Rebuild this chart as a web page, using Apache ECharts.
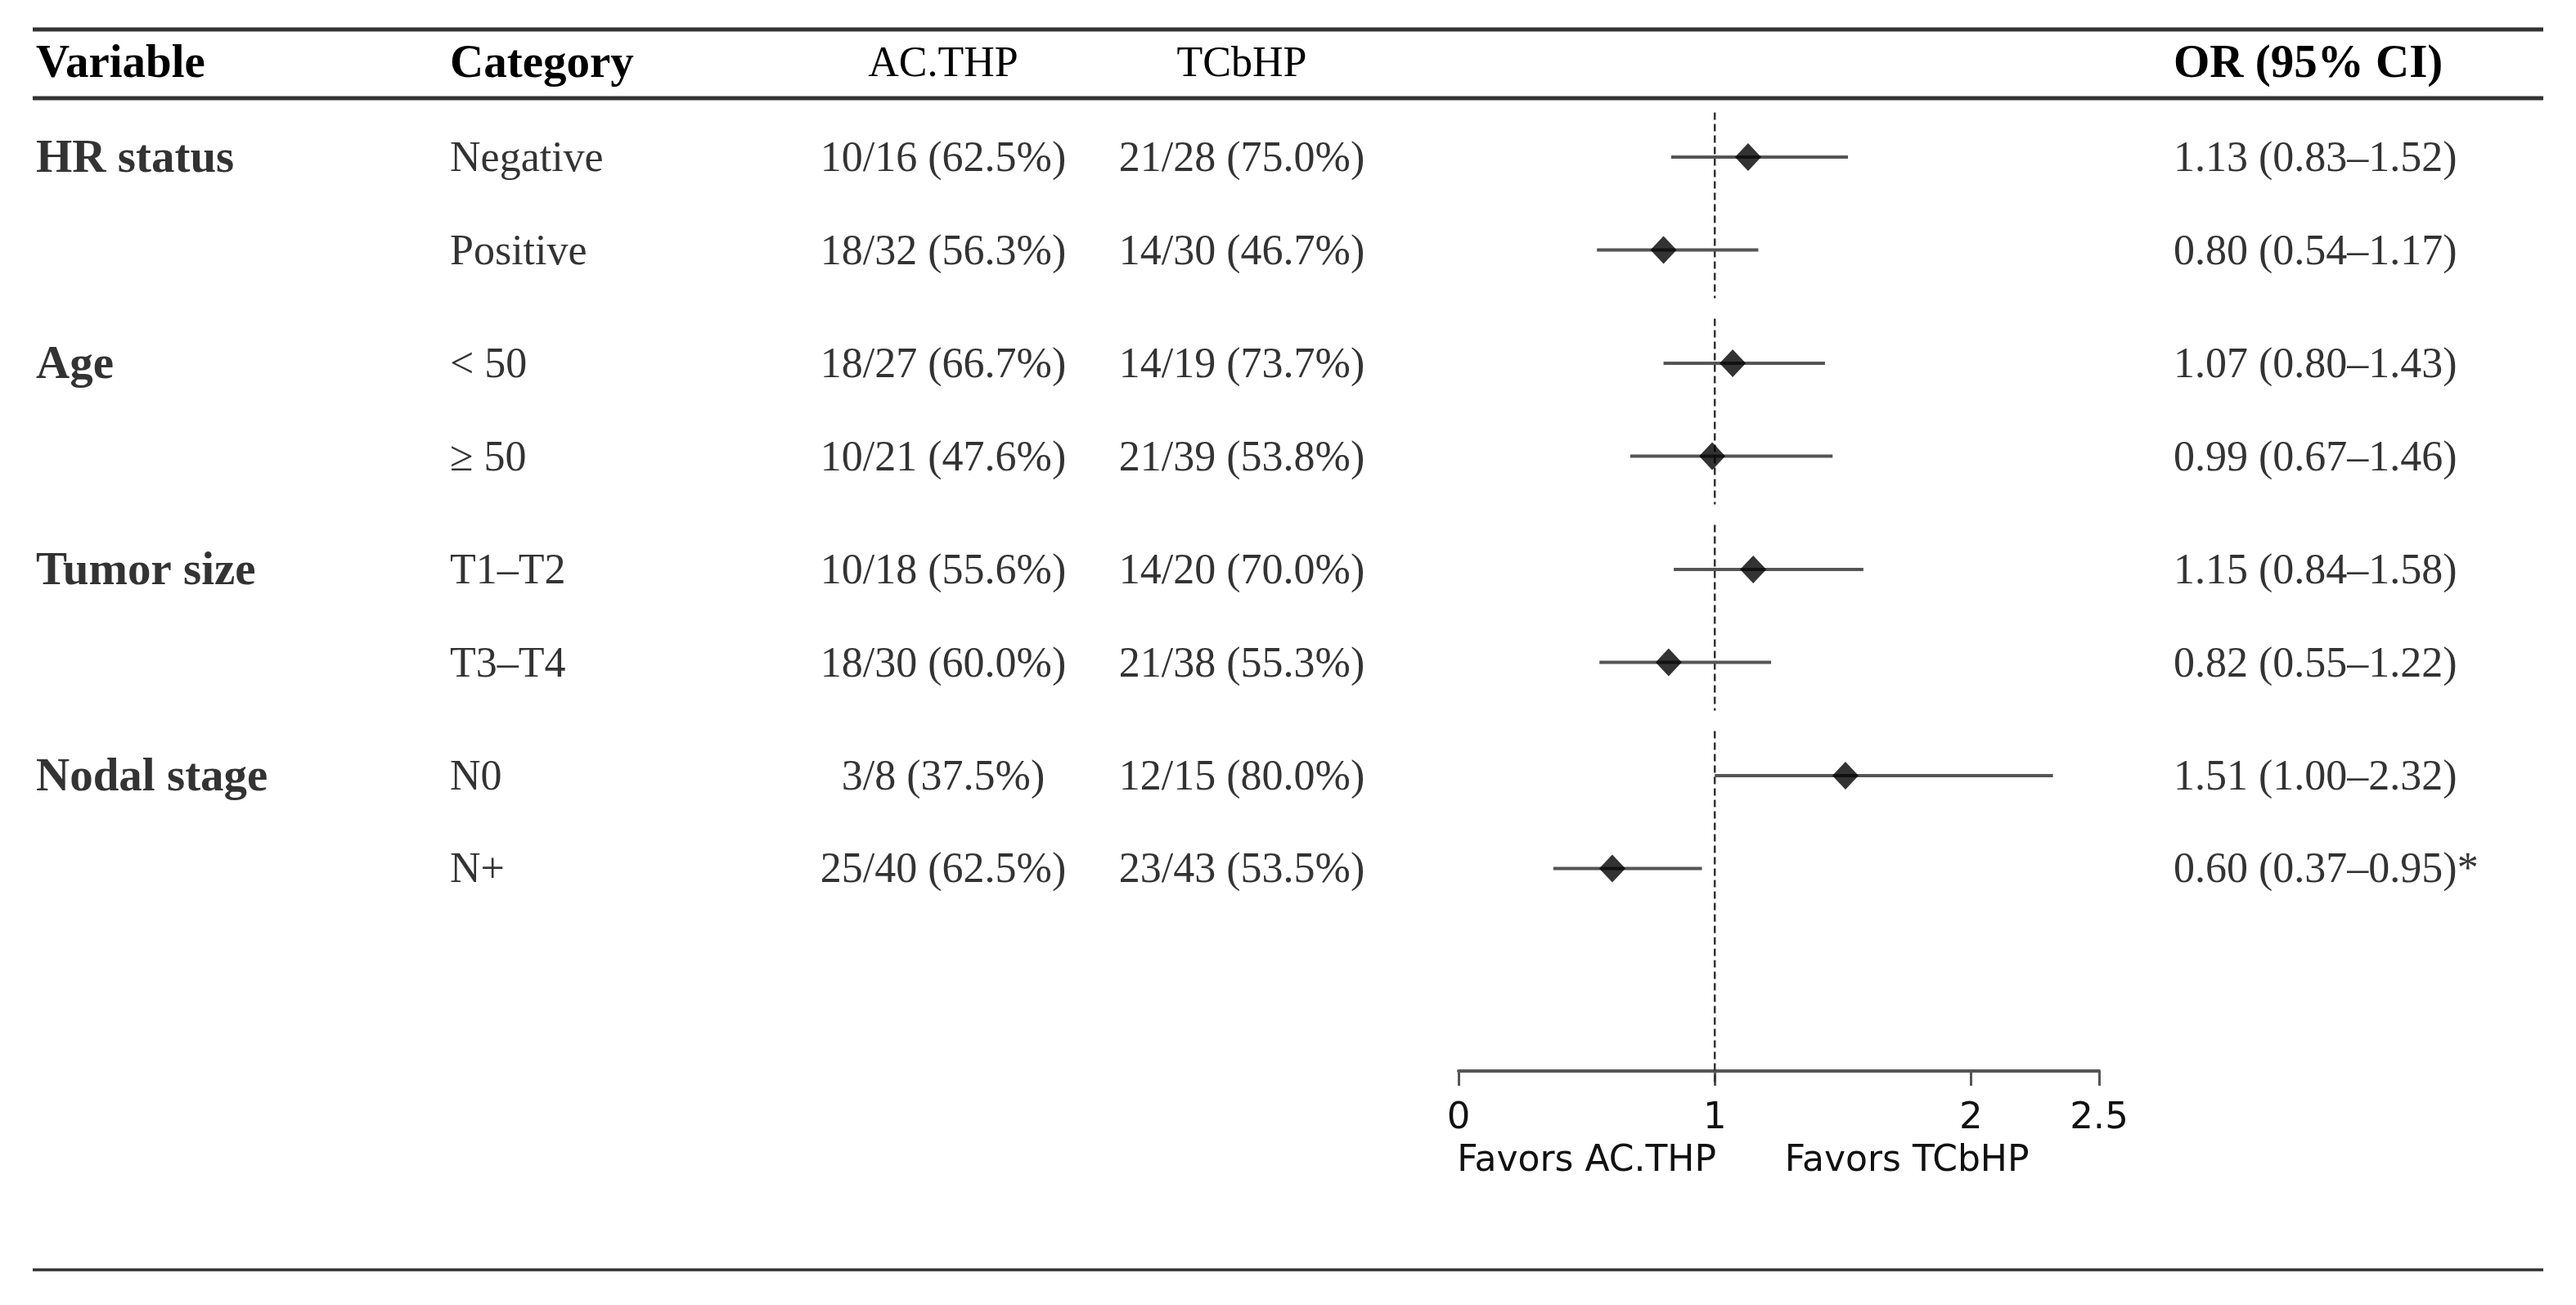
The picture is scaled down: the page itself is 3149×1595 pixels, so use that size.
<!DOCTYPE html>
<html>
<head>
<meta charset="utf-8">
<script src="https://cdn.jsdelivr.net/npm/echarts@6/dist/echarts.min.js"></script>
<style>
html,body{margin:0;padding:0;background:#fff;}
#c{width:3149px;height:1595px;}
</style>
</head>
<body>
<div id="c"></div>
<script>
// ---- data ----
const variables = ['HR status', 'Age', 'Tumor size', 'Nodal stage'];
const groupOf = [0, 0, 1, 1, 2, 2, 3, 3];
const categories = ['Negative', 'Positive', '< 50', '\u2265 50', 'T1\u2013T2', 'T3\u2013T4', 'N0', 'N+'];
const acthp = ['10/16 (62.5%)', '18/32 (56.3%)', '18/27 (66.7%)', '10/21 (47.6%)', '10/18 (55.6%)', '18/30 (60.0%)', '3/8 (37.5%)', '25/40 (62.5%)'];
const tcbhp = ['21/28 (75.0%)', '14/30 (46.7%)', '14/19 (73.7%)', '21/39 (53.8%)', '14/20 (70.0%)', '21/38 (55.3%)', '12/15 (80.0%)', '23/43 (53.5%)'];
const orVal = [1.13, 0.80, 1.07, 0.99, 1.15, 0.82, 1.51, 0.60];
const ciLow = [0.83, 0.54, 0.80, 0.67, 0.84, 0.55, 1.00, 0.37];
const ciHigh = [1.52, 1.17, 1.43, 1.46, 1.58, 1.22, 2.32, 0.95];
const sigMark = ['', '', '', '', '', '', '', '*'];
const xTicks = [0, 1, 2, 2.5];
const headers = ['Variable', 'Category', 'AC.THP', 'TCbHP', 'OR (95% CI)'];
const favorLabels = ['Favors AC.THP', 'Favors TCbHP'];
const favorAt = [0.5, 1.75];

// ---- layout ----
const W = 3149, H = 1595;
const rowStep = 113.5, firstRowPx = 192, axisPx = 1309, GAP = 0.22;
const yMin = -0.5;
const gridTop = firstRowPx + yMin * rowStep;
const gridH = axisPx - gridTop;
const yMax = yMin + gridH / rowStep;
const plotLeft = 1783, plotWidth = 783;
const colX = { variable: 44, category: 550, ac: 1153, tc: 1518, or: 2657 };
const serif = 'Liberation Serif';
const sans = 'DejaVu Sans';
const txt = '#000';
const textDy = 0.03;

const rowPos = categories.map((_, i) => i + groupOf[i] * GAP);

function textSeries(x, labels, align, bold) {
  return {
    type: 'scatter', xAxisIndex: 1, yAxisIndex: 1, symbolSize: 0, clip: false,
    silent: true,
    data: labels.map((t, i) => ({ value: [x, rowPos[i] + textDy], name: t })).filter(d => d.name !== ''),
    itemStyle: { color: 'rgba(0,0,0,0)' },
    label: {
      show: true, position: [0, 0], align: align, verticalAlign: 'middle',
      formatter: p => p.name, fontFamily: serif, fontSize: bold ? 57 : 52,
      fontWeight: bold ? 'bold' : 'normal', color: txt
    },
    z: 5
  };
}

const varLabels = categories.map((_, i) => (i === 0 || groupOf[i] !== groupOf[i - 1]) ? variables[groupOf[i]] : '');
const orLabels = orVal.map((v, i) => v.toFixed(2) + ' (' + ciLow[i].toFixed(2) + '\u2013' + ciHigh[i].toFixed(2) + ')' + sigMark[i]);

// dashed reference segments per group
const segs = variables.map((_, g) => {
  const idx = rowPos.map((p, i) => i).filter(i => groupOf[i] === g);
  const s = rowPos[idx[0]] - 0.48;
  const e = (g === variables.length - 1) ? yMax + 0.16 : rowPos[idx[idx.length - 1]] + 0.52;
  return [1, s, e];
});

const chart = echarts.init(document.getElementById('c'), null, { renderer: 'canvas', width: W, height: H });

const option = {
  backgroundColor: '#fff',
  animation: false,
  grid: [
    { left: plotLeft, width: plotWidth, top: gridTop, height: gridH, containLabel: false },
    { left: 0, width: W, top: gridTop, height: gridH, containLabel: false }
  ],
  xAxis: [
    {
      type: 'value', gridIndex: 0, min: 0, max: 2.5, position: 'bottom',
      splitLine: { show: false },
      axisLine: { show: true, onZero: false, lineStyle: { color: '#555', width: 4 } },
      axisTick: { show: true, inside: false, customValues: xTicks, length: 18, lineStyle: { color: '#555', width: 3 } },
      axisLabel: { show: true, customValues: xTicks, margin: 36, fontFamily: sans, fontSize: 45, color: '#111',
        formatter: v => String(v) }
    },
    { type: 'value', gridIndex: 1, min: 0, max: W, show: false }
  ],
  yAxis: [
    { type: 'value', gridIndex: 0, min: yMin, max: yMax, inverse: true, show: false },
    { type: 'value', gridIndex: 1, min: yMin, max: yMax, inverse: true, show: false }
  ],
  series: [
    {
      type: 'custom', xAxisIndex: 0, yAxisIndex: 0, silent: true, z: 2, clip: false,
      data: segs,
      renderItem: (params, api) => {
        const a = api.coord([api.value(0), api.value(1)]);
        const b = api.coord([api.value(0), api.value(2)]);
        return { type: 'line', shape: { x1: a[0], y1: a[1], x2: b[0], y2: b[1] },
          style: { stroke: '#333', lineWidth: 2.5, lineDash: [9, 5] } };
      }
    },
    {
      type: 'custom', xAxisIndex: 0, yAxisIndex: 0, silent: true, z: 3,
      data: orVal.map((v, i) => [ciLow[i], ciHigh[i], rowPos[i]]),
      renderItem: (params, api) => {
        const a = api.coord([api.value(0), api.value(2)]);
        const b = api.coord([api.value(1), api.value(2)]);
        return { type: 'line', shape: { x1: a[0], y1: a[1], x2: b[0], y2: b[1] },
          style: { stroke: '#555', lineWidth: 4 } };
      }
    },
    {
      type: 'scatter', xAxisIndex: 0, yAxisIndex: 0, symbol: 'diamond', symbolSize: [32, 34],
      data: orVal.map((v, i) => [v, rowPos[i]]),
      itemStyle: { color: '#000' }, z: 4, silent: true
    },
    textSeries(colX.variable, varLabels, 'left', true),
    textSeries(colX.category, categories, 'left', false),
    textSeries(colX.ac, acthp, 'center', false),
    textSeries(colX.tc, tcbhp, 'center', false),
    textSeries(colX.or, orLabels, 'left', false)
  ]
};
chart.setOption(option);

// header, rules and favour labels
const headerY = 79;
const headerCfg = [
  { x: colX.variable, align: 'left', bold: true },
  { x: colX.category, align: 'left', bold: true },
  { x: colX.ac, align: 'center', bold: false },
  { x: colX.tc, align: 'center', bold: false },
  { x: colX.or, align: 'left', bold: true }
];
const graphics = [
  { type: 'line', shape: { x1: 40, y1: 36, x2: 3109, y2: 36 }, style: { stroke: '#333', lineWidth: 5 } },
  { type: 'line', shape: { x1: 40, y1: 120, x2: 3109, y2: 120 }, style: { stroke: '#333', lineWidth: 5 } },
  { type: 'line', shape: { x1: 40, y1: 1552, x2: 3109, y2: 1552 }, style: { stroke: '#333', lineWidth: 3.5 } }
];
headers.forEach((h, i) => {
  const c = headerCfg[i];
  graphics.push({ type: 'text', x: c.x, y: headerY, style: { text: h, align: c.align, verticalAlign: 'middle',
    font: (c.bold ? 'bold 57px ' : '52px ') + '"' + serif + '"', fill: txt } });
});
favorLabels.forEach((t, i) => {
  const px = chart.convertToPixel({ xAxisIndex: 0 }, favorAt[i]);
  graphics.push({ type: 'text', x: px, y: 1420, style: { text: t, align: 'center', verticalAlign: 'middle',
    font: '44px "' + sans + '"', fill: '#111' } });
});
chart.setOption({ graphic: graphics });
</script>
</body>
</html>
